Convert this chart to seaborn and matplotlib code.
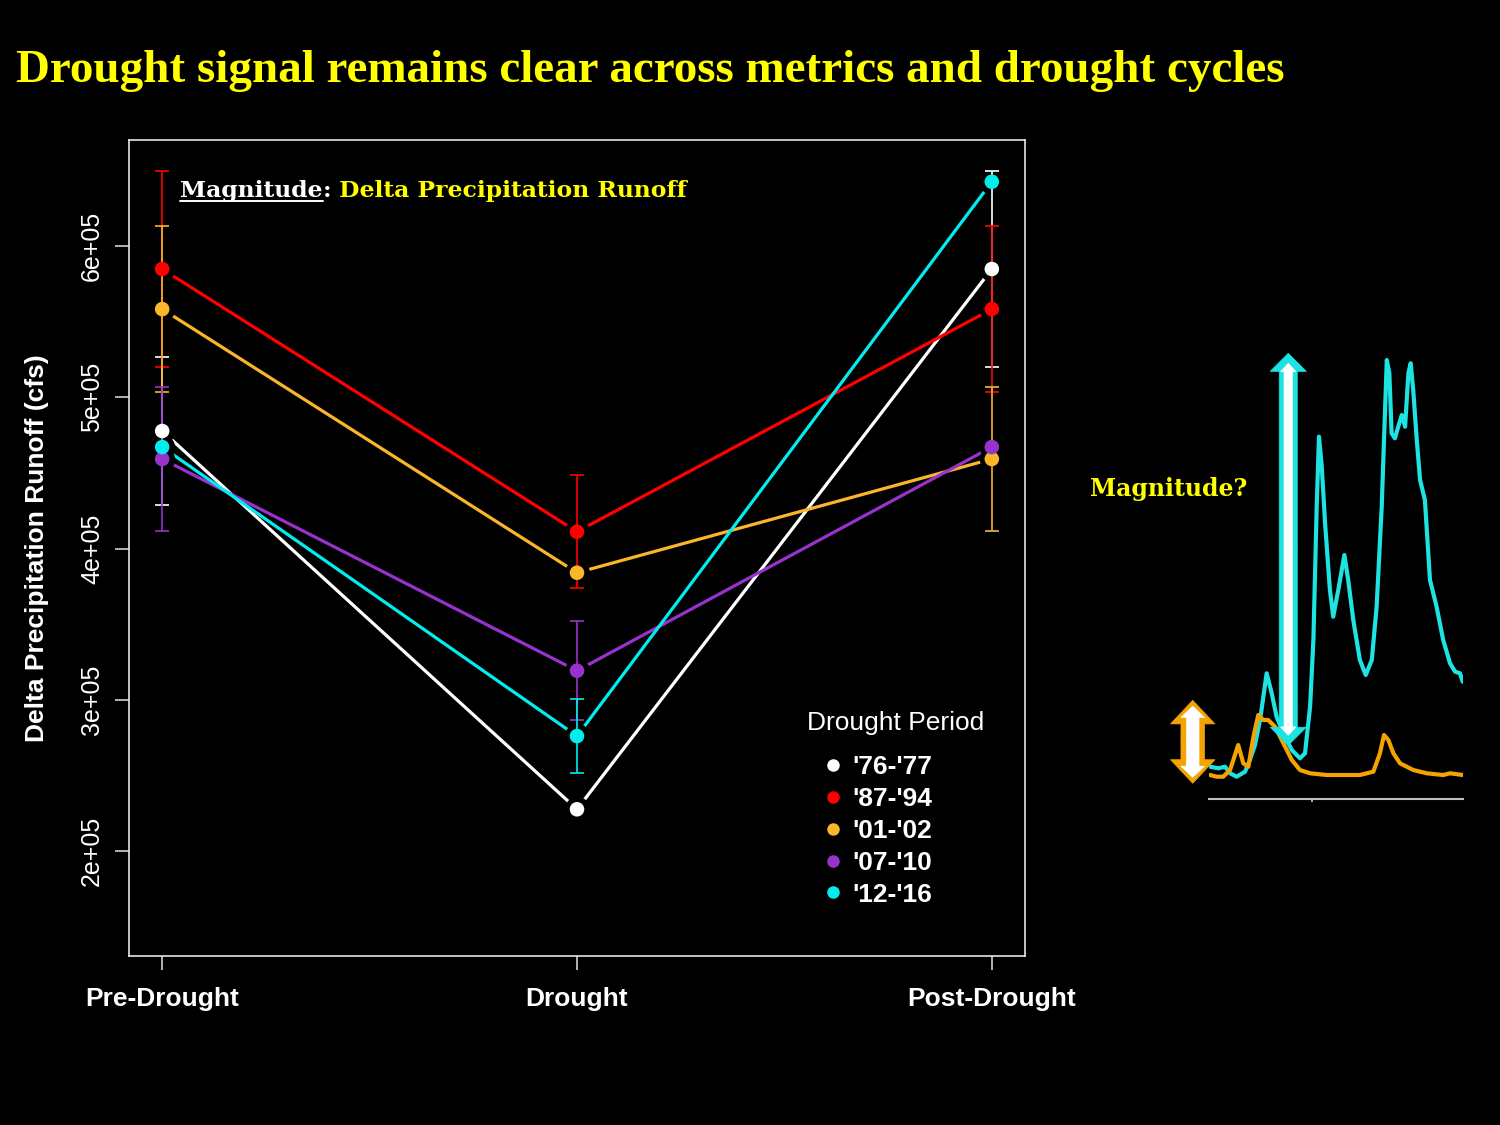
import numpy as np
import pandas as pd
import matplotlib
matplotlib.use("Agg")
import matplotlib.pyplot as plt
from matplotlib.lines import Line2D
from matplotlib.patches import FancyArrowPatch
import seaborn as sns

# --- data ---
phases = ["Pre-Drought", "Drought", "Post-Drought"]
periods = ["'76-'77", "'87-'94", "'01-'02", "'07-'10", "'12-'16"]
period_colors = ["#ffffff", "#ff0000", "#fbb52a", "#9932cc", "#00eeee"]

runoff_7677 = [477700, 227600, 584800]
runoff_8794 = [584800, 411100, 558300]
runoff_0102 = [558300, 384000, 459200]
runoff_0710 = [459200, 319200, 467100]
runoff_1216 = [467100, 276000, 642500]

err_7677 = [48800, 0, 64500]
err_8794 = [64500, 37300, 54900]
err_0102 = [54900, 0, 47900]
err_0710 = [47900, 32600, 0]
err_1216 = [0, 24700, 0]

y_ticks = [200000, 300000, 400000, 500000, 600000]
y_tick_labels = ["2e+05", "3e+05", "4e+05", "5e+05", "6e+05"]

# sketch hydrographs on the right (day index, flow in arbitrary units)
wet_day = [0.4, 3.7, 6.3, 8.3, 10.9, 14.2, 16.1, 18.1, 20.1, 22.7, 24.7, 26.6, 29.3,
           32.6, 35.8, 37.8, 39.8, 41.1, 42.4, 43.3, 44.4, 45.7, 47.6, 48.9, 50.9,
           53.3, 54.8, 56.8, 59.4, 61.7, 64.1, 66.0, 68.0, 68.9, 70.0, 71.0, 71.9,
           73.2, 74.5, 75.9, 77.2, 78.5, 79.4, 80.4, 81.8, 83.1, 85.0, 87.0, 89.6,
           92.2, 94.9, 96.9, 98.8, 99.9]
wet_flow = [32.6, 31, 32.6, 26, 22.6, 27.6, 39.3, 54.3, 79.3, 126, 106, 82.6, 66,
            49.3, 41, 46, 92.6, 159.3, 292.6, 362.6, 332.6, 276, 209.3, 182.6, 209.3,
            244.3, 219.3, 179.3, 139.3, 124.3, 139.3, 192.6, 292.6, 359.3, 439.3, 426,
            366, 361, 372.6, 384.3, 372.6, 426, 436, 409.3, 359.3, 319.3, 299.3, 219.3,
            192.6, 159.3, 136, 127.6, 126, 117.6]
dry_day = [0.4, 3.0, 5.6, 8.3, 11.5, 13.5, 15.5, 17.5, 19.4, 21.4, 23.3, 26.0, 29.3,
           32.6, 35.8, 39.8, 46.3, 52.9, 59.4, 64.7, 67.3, 68.9, 70.6, 72.6, 75.2,
           80.4, 85.7, 92.2, 94.9, 99.9]
dry_flow = [24.3, 22.6, 22.6, 29.3, 54.3, 36, 32.6, 62.6, 84.3, 79.3, 79.3, 72.6, 56,
            39.3, 29.3, 26, 24.3, 24.3, 24.3, 27.6, 46, 64.3, 59.3, 46, 36,
            29.3, 26, 24.3, 26, 24.3]

# --- long table for seaborn ---
runoff = [runoff_7677, runoff_8794, runoff_0102, runoff_0710, runoff_1216]
errs = [err_7677, err_8794, err_0102, err_0710, err_1216]
rows = []
for per, vals, ee in zip(periods, runoff, errs):
    for i, ph in enumerate(phases):
        rows.append({"phase": ph, "pos": i, "period": per, "runoff": vals[i], "err": ee[i]})
df = pd.DataFrame(rows)
palette = dict(zip(periods, period_colors))

sns.set_theme(style="ticks")
plt.rcParams["font.family"] = ["Liberation Sans", "DejaVu Sans"]
plt.rcParams["axes.edgecolor"] = "#e6e6e6"
plt.rcParams["xtick.color"] = "#d0d0d0"
plt.rcParams["ytick.color"] = "#d0d0d0"

fig = plt.figure(figsize=(15, 11.25), dpi=100, facecolor="black")

ax = fig.add_axes([129 / 1500, 1 - 956 / 1125, 896 / 1500, 816 / 1125])
ax.set_facecolor("black")

sns.lineplot(data=df, x="pos", y="runoff", hue="period", palette=palette,
             sort=False, lw=2.3, legend=False, ax=ax, zorder=1)
# black halo so lines stop short of the points (R type="b")
sns.scatterplot(data=df, x="pos", y="runoff", color="black", s=330,
                linewidth=0, legend=False, ax=ax, zorder=2)
for per, col in zip(periods, period_colors):
    sub = df[(df["period"] == per) & (df["err"] > 0)]
    if len(sub):
        ax.errorbar(sub["pos"], sub["runoff"], yerr=sub["err"], fmt="none",
                    ecolor=col, elinewidth=1.2, capsize=5, capthick=1.2, zorder=3)
sns.scatterplot(data=df, x="pos", y="runoff", hue="period", palette=palette,
                s=110, linewidth=0, legend=False, ax=ax, zorder=4)

ax.set_xlim(-0.08, 2.08)
ax.set_ylim(130600, 670100)
ax.set_xticks(range(len(phases)))
ax.set_xticklabels(phases, fontsize=19, fontweight="bold", color="white")
ax.set_yticks(y_ticks)
ax.set_yticklabels(y_tick_labels, fontsize=18, color="white", rotation=90, va="center")
ax.tick_params(axis="x", length=10, width=1.2, pad=12)
ax.tick_params(axis="y", length=10, width=1.2, pad=8)
ax.set_xlabel("")
ax.set_ylabel("Delta Precipitation Runoff (cfs)", fontsize=19, fontweight="bold",
              color="white", labelpad=22)
for sp in ax.spines.values():
    sp.set_visible(True)
    sp.set_linewidth(1.2)

handles = [Line2D([], [], ls="", marker="o", markersize=9, color=c, markeredgewidth=0)
           for c in period_colors]
leg = ax.legend(handles, periods, frameon=False,
                loc="upper left", bbox_to_anchor=(808 / 1500, 1 - 755 / 1125),
                bbox_transform=fig.transFigure, borderpad=0, borderaxespad=0,
                prop={"size": 19, "weight": "bold"},
                labelspacing=0.3, handlelength=1.9, handletextpad=-0.2)
for t in leg.get_texts():
    t.set_color("white")
fig.text(896 / 1500, 1 - 723 / 1125, "Drought Period", fontsize=19, color="white",
         ha="center", va="center")

# --- titles ---
fig.text(16 / 1500, 1 - 82 / 1125,
         "Drought signal remains clear across metrics and drought cycles",
         fontsize=33.9, fontweight="bold", family="Liberation Serif",
         color="#ffff00", va="baseline", ha="left")

t1 = fig.text(180 / 1500, 1 - 197 / 1125, "Magnitude", fontsize=16.9, fontweight="bold",
              family="DejaVu Serif", color="white", va="baseline", ha="left")
t2 = ax.annotate(":", xy=(1, 0), xycoords=t1, fontsize=16.9, fontweight="bold",
                 family="DejaVu Serif", color="white", va="bottom", ha="left")
t3 = ax.annotate(" Delta Precipitation Runoff", xy=(1, 0), xycoords=t2, fontsize=16.9,
                 fontweight="bold", family="DejaVu Serif", color="#ffff00",
                 va="bottom", ha="left")
fig.canvas.draw()
bb = t1.get_window_extent()
uy = 1 - 200.5 / 1125
fig.add_artist(Line2D([bb.x0 / 1500, bb.x1 / 1500], [uy, uy], color="white",
                      lw=1.4, transform=fig.transFigure))

fig.text(1090 / 1500, 1 - 496 / 1125, "Magnitude?", fontsize=17, fontweight="bold",
         family="DejaVu Serif", color="#ffff00", va="baseline", ha="left")

# --- hydrograph sketch ---
axh = fig.add_axes([1209 / 1500, 1 - 799.3 / 1125, 254 / 1500, 460 / 1125])
axh.set_facecolor("black")
axh.patch.set_alpha(0)
sns.lineplot(x=wet_day, y=wet_flow, color="#1ee3e3", lw=3, sort=False, ax=axh)
sns.lineplot(x=dry_day, y=dry_flow, color="#f5a300", lw=3, sort=False, ax=axh)
axh.set_xlim(0, 100)
axh.set_ylim(0, 460)
for s in ["top", "left", "right"]:
    axh.spines[s].set_visible(False)
axh.spines["bottom"].set_color("#bfbfbf")
axh.spines["bottom"].set_linewidth(1.5)
axh.set_yticks([])
axh.set_xticks([40.4])
axh.set_xticklabels([])
axh.tick_params(axis="x", length=2, color="#bfbfbf")


def double_arrow(a, x, y0, y1, outer, inner, hl, hw, tw, ihl, ihw, itw, inset):
    ym = (y0 + y1) / 2
    for yy in (y0, y1):
        a.add_patch(FancyArrowPatch((x, ym), (x, yy), mutation_scale=1,
                                    arrowstyle=f"simple,head_length={hl},head_width={hw},tail_width={tw}",
                                    color=outer, lw=0.5, shrinkA=0, shrinkB=0,
                                    clip_on=False, zorder=5))
    for yy, d in ((y0, -inset), (y1, inset)):
        a.add_patch(FancyArrowPatch((x, ym), (x, yy + d), mutation_scale=1,
                                    arrowstyle=f"simple,head_length={ihl},head_width={ihw},tail_width={itw}",
                                    color=inner, lw=0.5, shrinkA=0, shrinkB=0,
                                    clip_on=False, zorder=6))


double_arrow(axh, 31.2, 446, 54, "#1ee3e3", "white", 13, 26, 13, 6, 11, 6, 10)
double_arrow(axh, -6.4, 99, 16, "#f5a300", "white", 17, 32, 17, 8, 17, 9, 6)

fig.savefig("out.png", dpi=100, facecolor="black")
